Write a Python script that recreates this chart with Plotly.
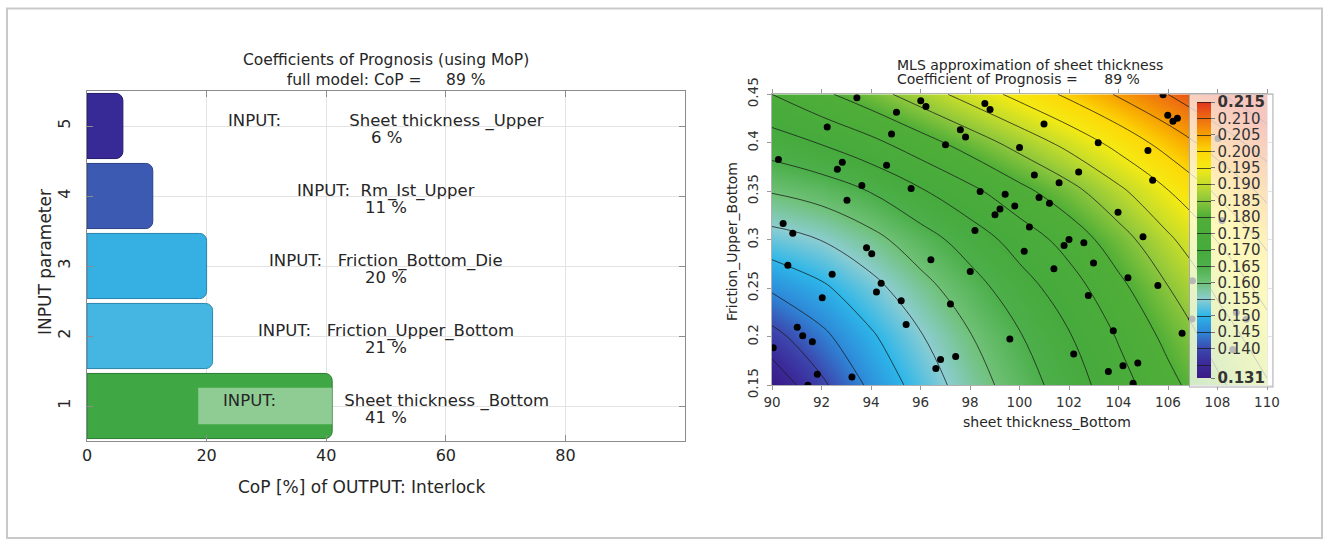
import plotly.graph_objects as go

# ---------------- data: left chart (CoP bar chart) ----------------
PARAM_IDS = [1, 2, 3, 4, 5]
COP_VALUES = [41, 21, 20, 11, 6]
PARAM_NAMES = ["Sheet thickness _Bottom", "Friction_Upper_Bottom", "Friction_Bottom_Die",
               "Rm_Ist_Upper", "Sheet thickness _Upper"]
NAME_GAPS = [13, 3, 3, 2, 13]
BAR_COLORS = ["#3fa845", "#45b5e2", "#36b0e3", "#3d5ab2", "#372a97"]
BAR_EDGES = ["#2b7b32", "#2a86ad", "#2583ad", "#2a3f86", "#241a6c"]
X_TICKS_LEFT = [0, 20, 40, 60, 80]
FULL_COP = 89

# ---------------- data: right chart (MLS surface) ----------------
GRID_X = [90, 92, 94, 96, 98, 100, 102, 104, 106, 108, 110]
GRID_Y = [0.15, 0.20, 0.25, 0.30, 0.35, 0.40, 0.45]
SURFACE_Z = [
    [0.1310, 0.1390, 0.1460, 0.1520, 0.1575, 0.1625, 0.1675, 0.1730, 0.1785, 0.1840, 0.1895],
    [0.1383, 0.1438, 0.1493, 0.1546, 0.1597, 0.1646, 0.1696, 0.1754, 0.1813, 0.1872, 0.1929],
    [0.1457, 0.1491, 0.1534, 0.1582, 0.1629, 0.1678, 0.1727, 0.1786, 0.1848, 0.1909, 0.1967],
    [0.1530, 0.1551, 0.1584, 0.1628, 0.1672, 0.1721, 0.1769, 0.1828, 0.1891, 0.1952, 0.2010],
    [0.1603, 0.1621, 0.1652, 0.1694, 0.1737, 0.1785, 0.1832, 0.1889, 0.1948, 0.2007, 0.2063],
    [0.1677, 0.1703, 0.1737, 0.1779, 0.1823, 0.1869, 0.1916, 0.1967, 0.2020, 0.2073, 0.2124],
    [0.1750, 0.1790, 0.1830, 0.1875, 0.1920, 0.1965, 0.2010, 0.2055, 0.2100, 0.2145, 0.2190],
]
Z_MIN, Z_MAX = 0.131, 0.215
SAMPLE_X = [93.43, 96.01, 96.22, 95.03, 98.60, 98.81, 92.23, 94.83, 97.61, 97.82,
            97.01, 100.00, 90.26, 92.84, 92.64, 94.63, 93.63, 95.62, 93.03, 98.41,
            99.42, 99.81, 99.21, 99.01, 98.20, 90.45, 90.84, 100.99, 103.18, 105.19,
            105.80, 105.99, 106.20, 106.38, 100.60, 101.60, 102.39, 105.38, 100.79, 101.21,
            103.98, 100.40, 104.99, 102.00, 101.80, 102.60, 100.19, 93.82, 94.03, 102.99,
            96.42, 90.64, 98.01, 101.39, 104.38, 105.59, 92.43, 94.41, 94.22, 102.78,
            92.03, 95.22, 97.21, 95.42, 103.79, 106.57, 99.61, 91.02, 91.24, 91.63,
            90.05, 102.19, 97.42, 96.81, 96.62, 104.78, 104.18, 103.59, 104.59, 91.83,
            93.23, 91.45, 106.99, 106.97, 108.02, 108.18, 108.76, 108.62, 109.16]
SAMPLE_Y = [0.4465, 0.4434, 0.4374, 0.4314, 0.4405, 0.4343, 0.4162, 0.4091, 0.4134, 0.4060,
            0.3980, 0.3951, 0.3829, 0.3800, 0.3728, 0.3769, 0.3559, 0.3528, 0.3407, 0.3497,
            0.3469, 0.3348, 0.3317, 0.3257, 0.3095, 0.3167, 0.3067, 0.4195, 0.4001, 0.3920,
            0.4495, 0.4285, 0.4222, 0.4253, 0.3668, 0.3589, 0.3698, 0.3614, 0.3437, 0.3377,
            0.3284, 0.3131, 0.3032, 0.3003, 0.2941, 0.2970, 0.2881, 0.2918, 0.2856, 0.2761,
            0.2794, 0.2737, 0.2673, 0.2701, 0.2609, 0.2528, 0.2644, 0.2553, 0.2461, 0.2425,
            0.2403, 0.2371, 0.2338, 0.2127, 0.2063, 0.2036, 0.1977, 0.2098, 0.2010, 0.1949,
            0.1887, 0.1822, 0.1796, 0.1765, 0.1673, 0.1729, 0.1701, 0.1641, 0.1520, 0.1614,
            0.1586, 0.1500, 0.2578, 0.2184, 0.4045, 0.3199, 0.2250, 0.1870, 0.2180]
CB_TICKS = [0.131, 0.140, 0.145, 0.150, 0.155, 0.160, 0.165, 0.170, 0.175, 0.180,
            0.185, 0.190, 0.195, 0.200, 0.205, 0.210, 0.215]
COLOR_STOPS = [
    (0.131, "#3a1a86"), (0.136, "#3b2d9c"), (0.140, "#3c49af"), (0.145, "#2e88d8"),
    (0.150, "#2db6e9"), (0.155, "#8ccdd2"), (0.160, "#6fc177"), (0.165, "#4caf4a"),
    (0.170, "#46aa3d"), (0.180, "#4fae37"), (0.185, "#8cc63c"), (0.190, "#c4dc2c"),
    (0.195, "#f4ea14"), (0.200, "#fdd806"), (0.205, "#f7a000"), (0.210, "#ee6c12"),
    (0.215, "#e2341c"),
]
MLS_COP = 89

# ---------------- layout helpers ----------------
W, H = 1330, 546
FONT = "DejaVu Sans"
TXT = "#262626"
NB = "\u00a0"


def px(x):
    return x / W


def py(y):
    return 1 - y / H


colorscale = [[(v - Z_MIN) / (Z_MAX - Z_MIN), c] for v, c in COLOR_STOPS]
cb_text = [("<b>%.3f</b>" % v) if v in (Z_MIN, Z_MAX) else "%.3f" % v for v in CB_TICKS]

fig = go.Figure()

fig.add_trace(go.Bar(
    x=COP_VALUES, y=PARAM_IDS, orientation="h", width=0.93,
    marker=dict(color=BAR_COLORS, line=dict(color=BAR_EDGES, width=1), cornerradius=7),
    xaxis="x", yaxis="y", hoverinfo="skip",
))

fig.add_trace(go.Contour(
    x=GRID_X, y=GRID_Y, z=SURFACE_Z, zmin=Z_MIN, zmax=Z_MAX, zauto=False,
    colorscale=colorscale,
    contours=dict(coloring="heatmap", showlines=True, start=0.135, end=0.215, size=0.005),
    line=dict(color="rgba(25,25,25,0.75)", width=1, smoothing=1.1),
    colorbar=dict(
        x=px(1190), xanchor="left", y=py(240), yanchor="middle",
        lenmode="pixels", len=292, thicknessmode="pixels", thickness=14,
        xpad=7, ypad=8, bgcolor="rgba(255,255,255,0.72)", bordercolor="#a8a8a8",
        borderwidth=1, outlinewidth=0, tickvals=CB_TICKS, ticktext=cb_text,
        ticks="outside", ticklen=4, tickcolor="#777",
        tickfont=dict(family=FONT, size=15, color="#333"),
    ),
    xaxis="x2", yaxis="y2", hoverinfo="skip",
))

fig.add_trace(go.Scatter(
    x=SAMPLE_X, y=SAMPLE_Y, mode="markers",
    marker=dict(color="black", size=7, line=dict(width=0)),
    xaxis="x2", yaxis="y2", hoverinfo="skip",
))


def note(x, y, text, size, angle=0, xanchor="center", xref="paper", yref="paper", align="center"):
    return dict(x=x, y=y, xref=xref, yref=yref, showarrow=False, text=text,
                textangle=angle, xanchor=xanchor, yanchor="middle", align=align,
                font=dict(family=FONT, size=size, color=TXT))


annotations = []
for pid, val, name, gap in zip(PARAM_IDS, COP_VALUES, PARAM_NAMES, NAME_GAPS):
    annotations.append(note(50, pid + 0.07, "INPUT:" + NB * gap + name, 16.5, xref="x", yref="y"))
    annotations.append(note(50, pid - 0.17, "%d %%" % val, 16.5, xref="x", yref="y"))

annotations += [
    note(px(386), py(70), "Coefficients of Prognosis (using MoP)<br>full model: CoP ="
         + NB * 5 + "%d %%" % FULL_COP, 15.5),
    note(px(362), py(487), "CoP [%] of OUTPUT: Interlock", 17),
    note(px(45), py(262), "INPUT parameter", 17, angle=-90),
    note(px(895), py(65), "MLS approximation of sheet thickness", 14, xanchor="left"),
    note(px(895), py(79), "Coefficient of Prognosis =" + NB * 6 + "%d %%" % MLS_COP, 14, xanchor="left"),
    note(px(1047), py(422), "sheet thickness_Bottom", 14),
    note(px(732), py(242), "Friction_Upper_Bottom", 14, angle=-90),
]

shapes = [
    dict(type="rect", xref="x", yref="y", x0=18.6, x1=COP_VALUES[0],
         y0=PARAM_IDS[0] - 0.26, y1=PARAM_IDS[0] + 0.26,
         fillcolor="rgba(255,255,255,0.42)", line=dict(width=0), layer="above"),
    dict(type="rect", xref="paper", yref="paper", x0=px(7), x1=px(1322), y0=py(538), y1=py(8.5),
         line=dict(color="#c9c9c9", width=2), fillcolor="rgba(0,0,0,0)"),
]

axis_common = dict(zeroline=False, showline=True, automargin=False, mirror="ticks")

fig.update_layout(
    template="none",
    width=W, height=H, margin=dict(l=0, r=0, t=0, b=0, pad=0, autoexpand=False),
    paper_bgcolor="white", plot_bgcolor="white", showlegend=False,
    font=dict(family=FONT, color=TXT),
    xaxis=dict(domain=[px(87), px(685)], range=[0, 100], tickvals=X_TICKS_LEFT,
               showgrid=True, gridcolor="#e3e3e3", linecolor="#8c8c8c", linewidth=1,
               ticks="inside", ticklen=6, tickcolor="#8c8c8c",
               tickfont=dict(family=FONT, size=16, color=TXT), anchor="y", **axis_common),
    yaxis=dict(domain=[py(441), py(91)], range=[0.5, 5.5], tickvals=PARAM_IDS,
               showgrid=True, gridcolor="#e3e3e3", linecolor="#8c8c8c", linewidth=1,
               ticks="inside", ticklen=6, tickcolor="#8c8c8c", tickangle=-90,
               ticklabelstandoff=10,
               tickfont=dict(family=FONT, size=16, color=TXT), anchor="x", **axis_common),
    xaxis2=dict(domain=[px(772), px(1267)], range=[90, 110], dtick=2, tick0=90,
                showgrid=False, linecolor="#b0b0b0",
                ticks="outside", ticklen=4, tickcolor="#999",
                tickfont=dict(family=FONT, size=13.5, color="#333"), anchor="y2", **axis_common),
    yaxis2=dict(domain=[py(385.3), py(94.3)], range=[0.15, 0.45], dtick=0.05, tick0=0.15,
                showgrid=False, linecolor="#b0b0b0",
                ticks="outside", ticklen=4, tickcolor="#999",
                tickangle=-90, ticklabelstandoff=4,
                tickfont=dict(family=FONT, size=13.5, color="#333"), anchor="x2", **axis_common),
    annotations=annotations, shapes=shapes,
)

fig.write_html("out.html")
